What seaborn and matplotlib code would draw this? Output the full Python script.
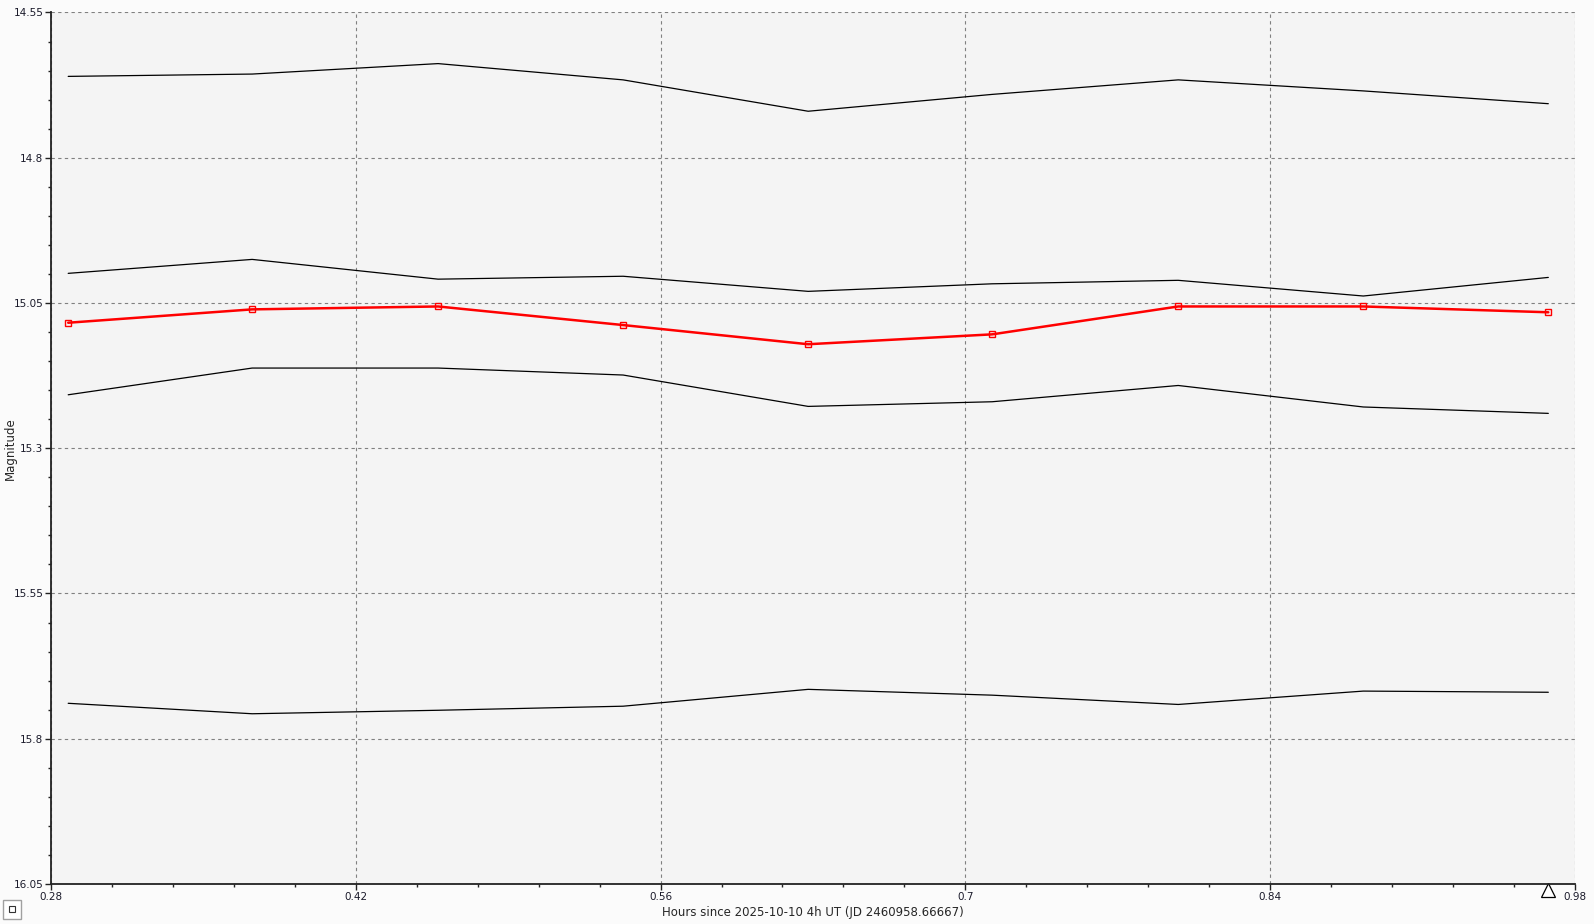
import pandas as pd
import matplotlib
matplotlib.use("Agg")
import matplotlib.pyplot as plt
import matplotlib.transforms as mtransforms
from matplotlib.ticker import FixedLocator, MultipleLocator
from matplotlib.patches import Rectangle
import seaborn as sns

# Time of each observation (hours since 2025-10-10 4h UT)
hours = [0.2879, 0.3724, 0.4578, 0.5428, 0.6278, 0.7123, 0.7978, 0.8828, 0.9678]

# Target star (red) and the comparison / check stars (black)
target_mag = [15.084, 15.061, 15.056, 15.088, 15.121, 15.104, 15.056, 15.056, 15.066]
comp1_mag = [14.660, 14.656, 14.638, 14.666, 14.720, 14.691, 14.666, 14.685, 14.707]
comp2_mag = [14.999, 14.975, 15.009, 15.004, 15.030, 15.017, 15.011, 15.038, 15.006]
comp3_mag = [15.208, 15.162, 15.162, 15.174, 15.228, 15.220, 15.192, 15.229, 15.240]
comp4_mag = [15.739, 15.757, 15.751, 15.744, 15.715, 15.725, 15.741, 15.718, 15.720]

x_ticks = [0.28, 0.42, 0.56, 0.70, 0.84, 0.98]
x_tick_labels = ["0.28", "0.42", "0.56", "0.7", "0.84", "0.98"]
y_ticks = [14.55, 14.80, 15.05, 15.30, 15.55, 15.80, 16.05]
y_tick_labels = ["14.55", "14.8", "15.05", "15.3", "15.55", "15.8", "16.05"]

sns.set_style("white")
plt.rcParams["font.family"] = ["DejaVu Sans"]

fig = plt.figure(figsize=(15.94, 9.24), dpi=100, facecolor="#fbfbfb")
ax = fig.add_axes([0.032, 0.0433, 0.956, 0.9432])
ax.set_facecolor("#f4f4f4")

for mags in [comp1_mag, comp2_mag, comp3_mag, comp4_mag]:
    sns.lineplot(x=hours, y=mags, ax=ax, color="black", linewidth=0.9)

sns.lineplot(x=hours, y=target_mag, ax=ax, color="red", linewidth=1.8,
             marker="s", markersize=5, markerfacecolor="none",
             markeredgecolor="red", markeredgewidth=1.0)

ax.set_xlim(x_ticks[0], x_ticks[-1])
ax.set_ylim(y_ticks[-1], y_ticks[0])

ax.xaxis.set_major_locator(FixedLocator(x_ticks))
ax.set_xticklabels(x_tick_labels)
ax.xaxis.set_minor_locator(MultipleLocator(0.028))
ax.yaxis.set_major_locator(FixedLocator(y_ticks))
ax.set_yticklabels(y_tick_labels)
ax.yaxis.set_minor_locator(MultipleLocator(0.05))

ax.grid(True, which="major", color="#808080", linestyle=(0, (3, 3)), linewidth=0.8)
ax.set_axisbelow(True)

for side in ["top", "right"]:
    ax.spines[side].set_visible(False)
for side in ["left", "bottom"]:
    ax.spines[side].set_color("#222222")
    ax.spines[side].set_linewidth(1.3)

ax.tick_params(axis="both", which="major", direction="out", length=4, width=1,
               color="#222222", labelsize=7.5, labelcolor="#1a1a2a", pad=1.5)
ax.tick_params(axis="both", which="minor", direction="out", length=2.5, width=1,
               color="#222222")
ax.tick_params(axis="x", which="both", bottom=True)
ax.tick_params(axis="y", which="both", left=True)

ax.set_xlabel("Hours since 2025-10-10 4h UT (JD 2460958.66667)", fontsize=8.5, labelpad=3)
ax.set_ylabel("Magnitude", fontsize=8.5)
ax.yaxis.set_label_coords(-0.0225, 0.5)

# hollow triangle under the axis at the latest observation
trans = mtransforms.blended_transform_factory(ax.transData, ax.transAxes)
ax.plot([hours[-1]], [-0.007], marker="^", markersize=10, markerfacecolor="white",
        markeredgecolor="black", markeredgewidth=0.9, transform=trans, clip_on=False)

# small legend button in the lower left corner
fig.patches.append(Rectangle((3 / 1594, 1 - 919 / 924), 18 / 1594, 19 / 924,
                             transform=fig.transFigure, facecolor="white",
                             edgecolor="#a0a0a0", linewidth=1))
fig.patches.append(Rectangle((9 / 1594, 1 - 912 / 924), 6 / 1594, 6 / 924,
                             transform=fig.transFigure, facecolor="none",
                             edgecolor="#333333", linewidth=0.8))

fig.savefig("out.png", dpi=100, facecolor=fig.get_facecolor())
